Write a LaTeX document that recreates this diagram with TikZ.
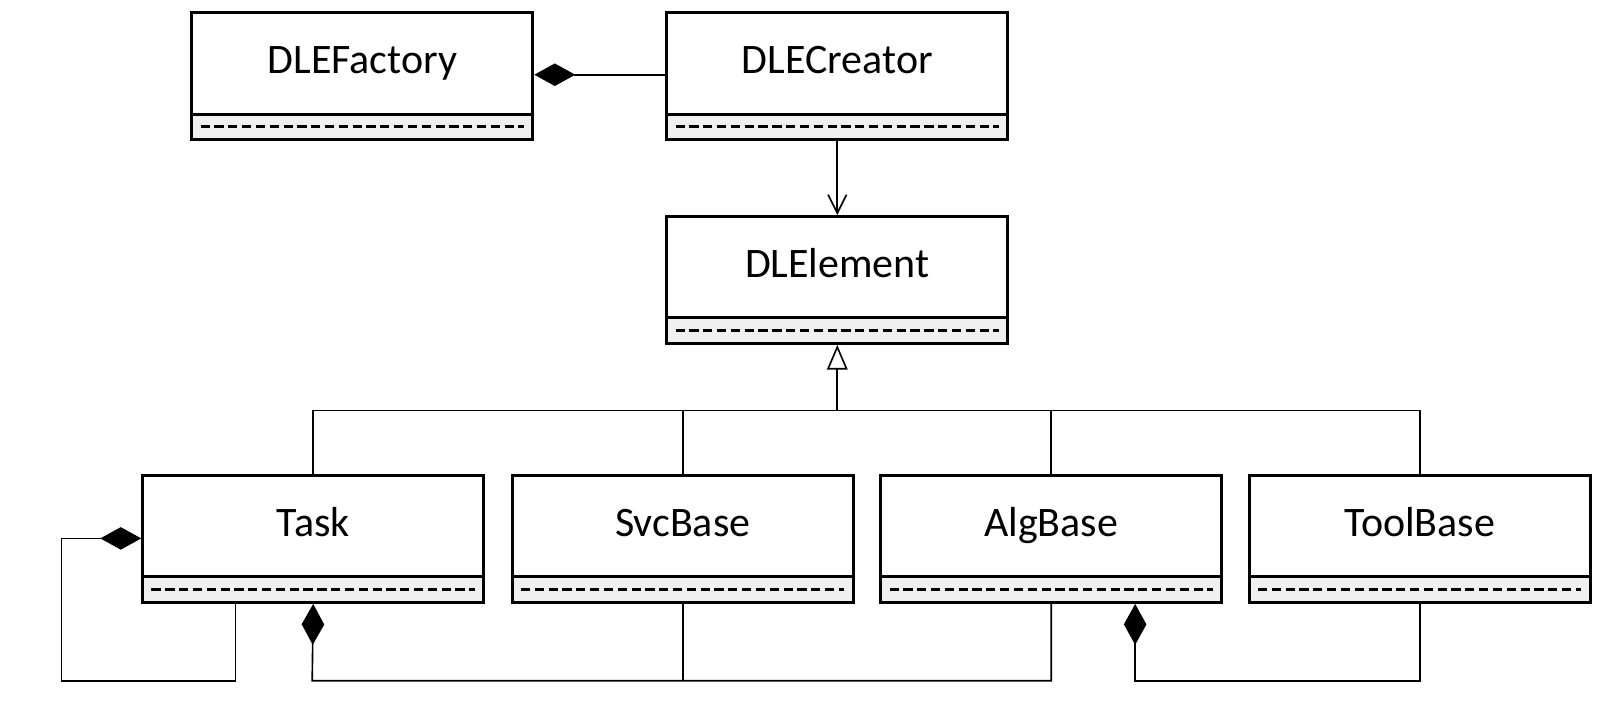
\documentclass[tikz,border=0pt]{standalone}
\usepackage{fontspec}
\setmainfont{Carlito}
\usetikzlibrary{arrows.meta,calc}
\begin{document}
\begin{tikzpicture}[x=1pt,y=-1pt,
  cls/.style={draw,line width=3pt,minimum width=333pt,minimum height=99pt,inner sep=0pt,text height=28pt,text depth=8pt,font=\fontsize{41}{48}\selectfont,anchor=north west},
  comp/.style={draw,line width=3pt,fill=gray!12,minimum width=333pt,minimum height=25pt,inner sep=0pt,anchor=north west},
  con/.style={line width=1.6pt},
  comp dia/.style={{Diamond[length=40pt,width=22pt]}-},
  gen/.style={-{Triangle[open,length=24pt,width=20pt,line width=1.6pt]}},
  nav/.style={-{Straight Barb[length=18pt,width=18pt,line width=1.6pt]}}]
\newcommand\umlclass[4]{%
  \node[cls] (#1) at (#2,#3) {#4};%
  \node[comp] (#1c) at (#2,#3+99) {};%
  \draw[line width=3pt,dash pattern=on 9pt off 4.5pt] ($(#1c.west)+(10,0)$) -- ($(#1c.east)+(-10,0)$);}%
\umlclass{fac}{186}{11}{DLEFactory}
\umlclass{cre}{650}{11}{DLECreator}
\umlclass{ele}{650}{210}{DLElement}
\umlclass{task}{138}{463}{Task}
\umlclass{svc}{499}{463}{SvcBase}
\umlclass{alg}{859}{463}{AlgBase}
\umlclass{tool}{1219}{463}{ToolBase}
\draw[con,comp dia] (fac.east |- 0,73) -- (cre.west |- 0,73);
\draw[con,nav] (crec.south) -- (ele.north);
\coordinate (bus) at (818,401);
\draw[con,gen] (bus) -- (elec.south);
\draw[con] (task.north) |- (bus) -| (tool.north);
\draw[con] (svc.north) -- (svc.north |- bus);
\draw[con] (alg.north) -- (alg.north |- bus);
\coordinate (s1) at (230,665);
\coordinate (s2) at (60,526);
\draw[con,comp dia] (task.west |- s2) -- (s2) |- (s1) -- (s1 |- taskc.south);
\coordinate (b) at (305,665);
\draw[con,comp dia] (taskc.south) -- (b) -| (algc.south);
\draw[con] (svcc.south) -- (svcc.south |- b);
\coordinate (a1) at (1109,665);
\draw[con,comp dia] (a1 |- algc.south) -- (a1) -| (toolc.south);
\pgfresetboundingbox
\useasboundingbox (0,0) rectangle (1569,690);
\end{tikzpicture}
\end{document}
